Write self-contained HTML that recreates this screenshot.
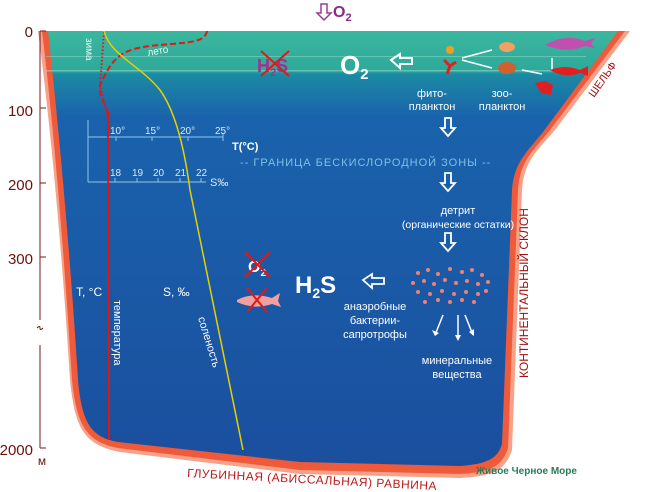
<!DOCTYPE html>
<html><head><meta charset="utf-8"><style>
html,body{margin:0;padding:0;background:#fff;}
svg{display:block;font-family:"Liberation Sans",sans-serif;}
</style></head><body>
<svg width="650" height="492" viewBox="0 0 650 492" xmlns="http://www.w3.org/2000/svg">
<defs>
<linearGradient id="w" x1="0" y1="0" x2="0" y2="1">
<stop offset="0" stop-color="#3bb79f"/>
<stop offset="0.09" stop-color="#2fa99a"/>
<stop offset="0.1" stop-color="#1b8aa3"/>
<stop offset="0.2" stop-color="#1a62ac"/>
<stop offset="1" stop-color="#1a4f9e"/>
</linearGradient>
</defs>
<!-- rim -->
<path d="M38,31 C50,120 62,250 70,380 C75,430 85,445 120,452 L300,474 L460,478 C495,476 505,470 512,450 L522,190 C524,160 538,150 555,130 L630,31 Z" fill="#f7a188"/>
<path d="M42,31 C53,120 64,250 72,380 C77,428 88,442 118,448 L300,470 L460,474 C492,472 502,466 508,448 L518,190 C520,160 534,150 550,130 L625,31 Z" fill="#ee5a3a"/>
<!-- water -->
<path d="M48,31 C58,120 70,250 78,380 C82,425 92,437 118,442 L300,462 L460,466 C488,464 498,458 502,444 L512,190 C514,162 527,152 543,132 L618,31 Z" fill="url(#w)"/>
<rect x="46" y="56" width="540" height="1" fill="#7fd3c0" opacity="0.6"/>
<rect x="46" y="70" width="540" height="1.5" fill="#9fe0d0" opacity="0.5"/>
<!-- depth axis -->
<g stroke="#7a1a1a" stroke-width="1" fill="none">
<line x1="40" y1="31" x2="40" y2="320"/><line x1="40" y1="345" x2="40" y2="448"/>
<line x1="40" y1="31" x2="46" y2="31"/><line x1="40" y1="108" x2="46" y2="108"/>
<line x1="40" y1="183" x2="46" y2="183"/><line x1="40" y1="257" x2="46" y2="257"/>
<line x1="40" y1="448" x2="46" y2="448"/>
<path d="M37,328 q3,-3 3,0 q0,3 3,0" />
</g>
<g fill="#6a1010" font-size="15" text-anchor="end">
<text x="33" y="37">0</text><text x="33" y="116">100</text><text x="33" y="190">200</text>
<text x="33" y="264">300</text><text x="33" y="455">2000</text>
<text x="42" y="465" font-size="12" text-anchor="middle">м</text>
</g>
<!-- top O2 arrow -->
<path d="M321,4 h6 v9 h4 l-7,7 l-7,-7 h4 z" fill="none" stroke="#9b3a9a" stroke-width="1.5"/>
<text x="333" y="17" font-size="16" font-weight="bold" fill="#8a2a8a">O<tspan font-size="11" dy="4">2</tspan></text>
<!-- T/S scale -->
<g stroke="#8fc6e8" stroke-width="1" fill="none">
<line x1="88" y1="120" x2="88" y2="182"/>
<line x1="88" y1="137" x2="223" y2="137"/>
<line x1="88" y1="182" x2="206" y2="182"/>
<line x1="116" y1="137" x2="116" y2="141"/><line x1="152" y1="137" x2="152" y2="141"/><line x1="188" y1="137" x2="188" y2="141"/><line x1="223" y1="133" x2="223" y2="141"/>
<line x1="115" y1="178" x2="115" y2="182"/><line x1="137" y1="178" x2="137" y2="182"/><line x1="158" y1="178" x2="158" y2="182"/><line x1="180" y1="178" x2="180" y2="182"/><line x1="201" y1="178" x2="201" y2="182"/>
</g>
<g fill="#d8ecfa" font-size="10">
<text x="110" y="134">10°</text><text x="145" y="134">15°</text><text x="180" y="134">20°</text><text x="215" y="134">25°</text>
<text x="232" y="150" font-weight="bold" font-size="11" fill="#fff">T(°C)</text>
<text x="110" y="176">18</text><text x="132" y="176">19</text><text x="153" y="176">20</text><text x="175" y="176">21</text><text x="196" y="176">22</text>
<text x="210" y="186" font-size="11">S‰</text>
</g>
<text x="240" y="166" font-size="11" fill="#7fc0e0" letter-spacing="1">-- ГРАНИЦА БЕСКИСЛОРОДНОЙ ЗОНЫ --</text>
<!-- curves -->
<path d="M104,32 L102,60 L100,85 L106,110 L110,130" fill="none" stroke="#e01818" stroke-width="2" stroke-dasharray="1.5,2"/>
<path d="M207,31 C205,44 185,42 150,46 C118,50 112,60 100,85 C98,100 108,105 108,115" fill="none" stroke="#e01818" stroke-width="2" stroke-dasharray="6,3"/>
<path d="M108,112 L109,440" stroke="#d81818" stroke-width="2" fill="none"/>
<path d="M104,31 C110,55 140,65 160,90 C178,115 186,160 190,190 L243,450" stroke="#e6d000" stroke-width="1.5" fill="none"/>
<text transform="translate(86,38) rotate(90)" font-size="10" fill="#e8f8f0">зима</text>
<text transform="translate(148,56) rotate(-10)" font-size="10" fill="#e8f8f0">лето</text>
<text transform="translate(114,300) rotate(90)" font-size="11" fill="#fff">температура</text>
<text transform="translate(198,318) rotate(73)" font-size="11" fill="#fff">соленость</text>
<text x="76" y="296" font-size="12" fill="#fff">T, °C</text>
<text x="163" y="296" font-size="12" fill="#fff">S, ‰</text>
<!-- H2S crossed top -->
<text x="257" y="72" font-size="18" font-weight="bold" fill="#a03090">H<tspan font-size="11" dy="4">2</tspan><tspan dy="-4">S</tspan></text>
<path d="M261,51 L289,76 M289,51 L261,76" stroke="#e01818" stroke-width="2"/>
<text x="340" y="74" font-size="26" font-weight="bold" fill="#fff">O<tspan font-size="15" dy="5">2</tspan></text>
<path d="M391,60 l9,-6 v4 h12 v6 h-12 v4 z" fill="none" stroke="#fff" stroke-width="2"/>
<!-- organisms -->
<circle cx="450" cy="50" r="4" fill="#f0a020"/>
<path d="M444,60 l6,6 l-3,8 M450,66 l6,-4" stroke="#e02020" stroke-width="3" fill="none"/>
<path d="M462,58 l30,-8 M462,60 l30,8 M522,70 l20,4 M552,70 v-12" stroke="#fff" stroke-width="1.5"/>
<ellipse cx="507" cy="47" rx="8" ry="5" fill="#f0a060"/>
<ellipse cx="507" cy="68" rx="9" ry="6" fill="#d06030"/>
<path d="M545,45 q20,-12 40,-4 l10,-3 l-4,6 l4,4 l-10,-2 q-18,8 -40,-1 z" fill="#c050b0"/>
<path d="M550,70 q15,-6 30,0 l8,-4 v10 l-8,-3 q-15,6 -30,-3 z" fill="#e02020"/>
<path d="M535,83 l10,-2 l8,4 l-2,10 l-10,-2 z" fill="#e02020"/>
<g fill="#fff" font-size="11" text-anchor="middle">
<text x="432" y="97">фито-</text><text x="432" y="110">планктон</text>
<text x="502" y="97">зоо-</text><text x="502" y="110">планктон</text>
<text x="458" y="214">детрит</text><text x="458" y="228" font-size="10.5">(органические остатки)</text>
<text x="375" y="310">анаэробные</text><text x="375" y="324">бактерии-</text><text x="375" y="338">сапротрофы</text>
<text x="457" y="364">минеральные</text><text x="457" y="378">вещества</text>
</g>
<g fill="none" stroke="#fff" stroke-width="1.8">
<path d="M445,118 h6 v10 h4 l-7,8 l-7,-8 h4 z"/>
<path d="M445,173 h6 v10 h4 l-7,8 l-7,-8 h4 z"/>
<path d="M445,233 h6 v10 h4 l-7,8 l-7,-8 h4 z"/>
<path d="M363,280 l9,-6 v4 h12 v6 h-12 v4 z"/>
</g>
<g fill="#f08070">
<circle cx="418" cy="273" r="2"/><circle cx="428" cy="270" r="2"/><circle cx="438" cy="274" r="2"/><circle cx="450" cy="269" r="2"/><circle cx="462" cy="272" r="2"/><circle cx="472" cy="270" r="2"/><circle cx="482" cy="275" r="2"/>
<circle cx="413" cy="283" r="2"/><circle cx="424" cy="281" r="2"/><circle cx="434" cy="284" r="2"/><circle cx="445" cy="280" r="2"/><circle cx="456" cy="283" r="2"/><circle cx="467" cy="281" r="2"/><circle cx="478" cy="284" r="2"/><circle cx="488" cy="282" r="2"/>
<circle cx="418" cy="292" r="2"/><circle cx="430" cy="294" r="2"/><circle cx="442" cy="291" r="2"/><circle cx="454" cy="294" r="2"/><circle cx="466" cy="292" r="2"/><circle cx="478" cy="294" r="2"/><circle cx="486" cy="291" r="2"/>
<circle cx="425" cy="302" r="2"/><circle cx="438" cy="300" r="2"/><circle cx="450" cy="302" r="2"/><circle cx="462" cy="300" r="2"/><circle cx="474" cy="302" r="2"/>
</g>
<path d="M443,315 l-8,20 M458,315 v23 M465,315 l8,20" stroke="#fff" stroke-width="1.5"/>
<path d="M432,330 l3,6 l4,-3 z M455,335 h6 l-3,6 z M469,332 l5,4 l0,-7 z" fill="#fff"/>
<text x="295" y="293" font-size="24" font-weight="bold" fill="#fff">H<tspan font-size="14" dy="5">2</tspan><tspan dy="-5">S</tspan></text>
<text x="248" y="272" font-size="16" font-weight="bold" fill="#fff">O<tspan font-size="10" dy="4">2</tspan></text>
<path d="M245,252 L270,277 M270,252 L245,277" stroke="#e01818" stroke-width="2"/>
<path d="M237,300 q15,-8 35,-2 l8,-5 l-2,8 l3,6 l-9,-3 q-18,6 -35,-2 z" fill="#f0a0a0"/>
<path d="M247,288 L267,312 M267,288 L247,312" stroke="#e01818" stroke-width="2"/>
<!-- labels on rim -->
<text transform="translate(594,98) rotate(-55)" font-size="11" fill="#a01010">ШЕЛЬФ</text>
<text transform="translate(528,378) rotate(-90)" font-size="12" fill="#a01010">КОНТИНЕНТАЛЬНЫЙ СКЛОН</text>
<text transform="translate(187,477) rotate(3)" font-size="12" fill="#c01818" letter-spacing="0.5">ГЛУБИННАЯ  (АБИССАЛЬНАЯ)  РАВНИНА</text>
<text x="476" y="474" font-size="10" font-weight="bold" fill="#2a7a5a">Живое Черное Море</text>
</svg>
</body></html>
